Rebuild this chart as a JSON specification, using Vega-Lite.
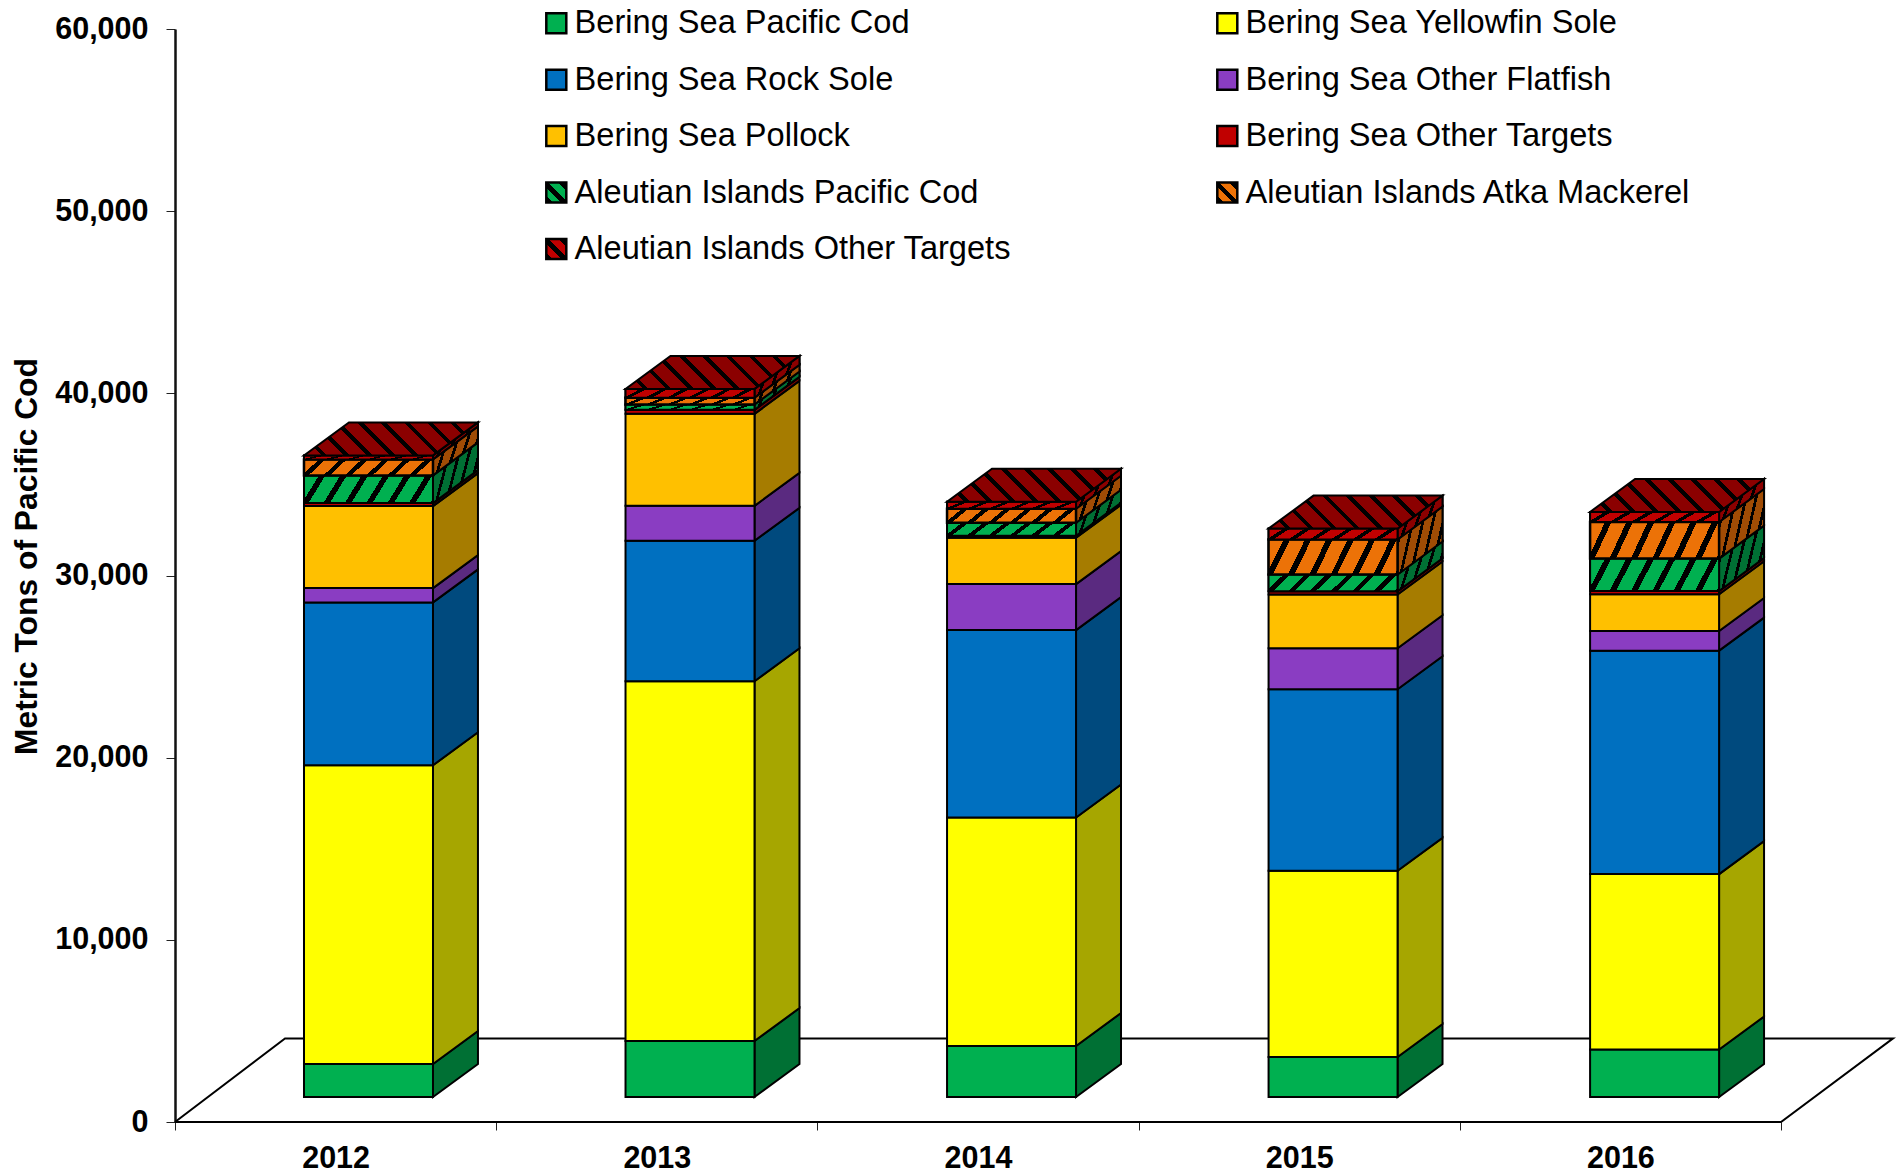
{"$schema":"https://vega.github.io/schema/vega-lite/v6.json","width":1721,"height":1093,"autosize":{"type":"none"},"padding":{"left":175,"top":29,"right":0,"bottom":51},"background":"white","config":{"view":{"stroke":null}},"datasets":{"bars":[
{"year":2012,"series":"Bering Sea Pacific Cod","value":1810},{"year":2012,"series":"Bering Sea Yellowfin Sole","value":16400},{"year":2012,"series":"Bering Sea Rock Sole","value":8940},{"year":2012,"series":"Bering Sea Other Flatfish","value":785},{"year":2012,"series":"Bering Sea Pollock","value":4500},{"year":2012,"series":"Bering Sea Other Targets","value":165},{"year":2012,"series":"Aleutian Islands Pacific Cod","value":1520},{"year":2012,"series":"Aleutian Islands Atka Mackerel","value":880},{"year":2012,"series":"Aleutian Islands Other Targets","value":220},
{"year":2013,"series":"Bering Sea Pacific Cod","value":3070},{"year":2013,"series":"Bering Sea Yellowfin Sole","value":19750},{"year":2013,"series":"Bering Sea Rock Sole","value":7710},{"year":2013,"series":"Bering Sea Other Flatfish","value":1920},{"year":2013,"series":"Bering Sea Pollock","value":5050},{"year":2013,"series":"Bering Sea Other Targets","value":220},{"year":2013,"series":"Aleutian Islands Pacific Cod","value":290},{"year":2013,"series":"Aleutian Islands Atka Mackerel","value":370},{"year":2013,"series":"Aleutian Islands Other Targets","value":490},
{"year":2014,"series":"Bering Sea Pacific Cod","value":2800},{"year":2014,"series":"Bering Sea Yellowfin Sole","value":12540},{"year":2014,"series":"Bering Sea Rock Sole","value":10290},{"year":2014,"series":"Bering Sea Other Flatfish","value":2525},{"year":2014,"series":"Bering Sea Pollock","value":2540},{"year":2014,"series":"Bering Sea Other Targets","value":110},{"year":2014,"series":"Aleutian Islands Pacific Cod","value":715},{"year":2014,"series":"Aleutian Islands Atka Mackerel","value":770},{"year":2014,"series":"Aleutian Islands Other Targets","value":385},
{"year":2015,"series":"Bering Sea Pacific Cod","value":2195},{"year":2015,"series":"Bering Sea Yellowfin Sole","value":10220},{"year":2015,"series":"Bering Sea Rock Sole","value":9970},{"year":2015,"series":"Bering Sea Other Flatfish","value":2250},{"year":2015,"series":"Bering Sea Pollock","value":2950},{"year":2015,"series":"Bering Sea Other Targets","value":180},{"year":2015,"series":"Aleutian Islands Pacific Cod","value":915},{"year":2015,"series":"Aleutian Islands Atka Mackerel","value":1920},{"year":2015,"series":"Aleutian Islands Other Targets","value":600},
{"year":2016,"series":"Bering Sea Pacific Cod","value":2605},{"year":2016,"series":"Bering Sea Yellowfin Sole","value":9630},{"year":2016,"series":"Bering Sea Rock Sole","value":12265},{"year":2016,"series":"Bering Sea Other Flatfish","value":1080},{"year":2016,"series":"Bering Sea Pollock","value":2015},{"year":2016,"series":"Bering Sea Other Targets","value":180},{"year":2016,"series":"Aleutian Islands Pacific Cod","value":1780},{"year":2016,"series":"Aleutian Islands Atka Mackerel","value":2010},{"year":2016,"series":"Aleutian Islands Other Targets","value":550}
],"floor":[{"p":0,"fx":0,"fy":0},{"p":1,"fx":0.3425,"fy":4590},{"p":2,"fx":5.349,"fy":4590},{"p":3,"fx":5,"fy":0},{"p":4,"fx":0,"fy":0}]},
"data":{"name":"bars"},
"transform":[
{"calculate":"indexof(['Bering Sea Pacific Cod','Bering Sea Yellowfin Sole','Bering Sea Rock Sole','Bering Sea Other Flatfish','Bering Sea Pollock','Bering Sea Other Targets','Aleutian Islands Pacific Cod','Aleutian Islands Atka Mackerel','Aleutian Islands Other Targets'],datum.series)","as":"o"},
{"stack":"value","groupby":["year"],"sort":[{"field":"o","order":"ascending"}],"as":["s0","s1"]},
{"calculate":"datum.s0+1374","as":"y0"},{"calculate":"datum.s1+1374","as":"y1"},
{"calculate":"(datum.year-2012)*1.001+0.4016","as":"x0"},{"calculate":"(datum.year-2012)*1.001+0.8032","as":"x1"}
],
"layer":[
{"data":{"name":"floor"},"transform":[],"mark":{"type":"line","stroke":"black","strokeWidth":2,"strokeJoin":"miter","clip":false},
"encoding":{"x":{"field":"fx","type":"quantitative","scale":{"domain":[0,5.358],"nice":false,"zero":false},"title":null,
"axis":{"values":[0,0.5,1,1.5,2,2.5,3,3.5,4,4.5,5],"domain":false,"grid":false,"tickColor":"#222","tickWidth":1,"tickSize":8,"tickOpacity":{"condition":{"test":"datum.value%1===0","value":1},"value":0},"labelExpr":"datum.value%1===0?'':''+(2012+floor(datum.value))","labelFont":"Liberation Sans","labelFontWeight":"bold","labelFontSize":30.5,"labelColor":"black","labelPadding":13,"labelOverlap":false,"labelFlush":false,"labelBound":false}},
"y":{"field":"fy","type":"quantitative","scale":{"domain":[0,60000],"nice":false},"title":"Metric Tons of Pacific Cod",
"axis":{"values":[0,10000,20000,30000,40000,50000,60000],"format":",.0f","grid":false,"domainColor":"#111","domainWidth":2.5,"tickColor":"#222","tickWidth":1,"tickSize":9,"labelFont":"Liberation Sans","labelFontWeight":"bold","labelFontSize":30.5,"labelColor":"black","labelPadding":18,"titleFont":"Liberation Sans","titleFontWeight":"bold","titleFontSize":31.8,"titleColor":"black","titleX":-132,"titleY":527}},
"order":{"field":"p","type":"quantitative"}}},
{"mark":{"type":"point","filled":true,"size":1,"color":"#FFFF00"},
"encoding":{"x":{"field":"x0","type":"quantitative","scale":{"domain":[0,5.358],"nice":false,"zero":false},"title":null},"y":{"field":"y0","type":"quantitative","scale":{"domain":[0,60000],"nice":false}},
"shape":{"field":"series","type":"nominal","sort":null,"scale":{"domain":["Bering Sea Pacific Cod","Bering Sea Yellowfin Sole","Bering Sea Rock Sole","Bering Sea Other Flatfish","Bering Sea Pollock","Bering Sea Other Targets","Aleutian Islands Pacific Cod","Aleutian Islands Atka Mackerel","Aleutian Islands Other Targets"],"range":["square","square","square","square","square","square","square","square","square"]},
"legend":{"orient":"none","legendX":365,"legendY":-22,"title":null,"direction":"horizontal","columns":2,"symbolSize":400,"symbolStrokeColor":"black","symbolStrokeWidth":2.5,"symbolOpacity":1,"labelFont":"Liberation Sans","labelFontSize":32.6,"labelColor":"black","labelLimit":600,"labelOffset":2,"rowPadding":23.4,"columnPadding":199,
"encoding":{"symbols":{"opacity":{"value":1},"stroke":{"value":"black"},"strokeWidth":{"value":2.5},"fill":{"value":{"expr":"indexof(datum.value,'Aleutian')!==0?scale('color',datum.value):{gradient:'linear',x1:0,y1:1,x2:1,y2:0,stops:[{offset:0,color:'#000'},{offset:0.16,color:'#000'},{offset:0.16,color:scale('color',datum.value)},{offset:0.38,color:scale('color',datum.value)},{offset:0.38,color:'#000'},{offset:0.55,color:'#000'},{offset:0.55,color:scale('color',datum.value)},{offset:0.8,color:scale('color',datum.value)},{offset:0.8,color:'#000'},{offset:1,color:'#000'}]}"}}}}}}}},
{"transform":[{"calculate":"[0,1]","as":"t"},{"flatten":["t"]},{"calculate":"datum.x1+datum.t*0.14","as":"sx"},{"calculate":"datum.y0+datum.t*1811","as":"sa"},{"calculate":"datum.y1+datum.t*1811","as":"sb"}],
"mark":{"type":"area","stroke":"black","strokeWidth":2,"strokeJoin":"miter"},
"encoding":{"x":{"field":"sx","type":"quantitative","scale":{"domain":[0,5.358],"nice":false,"zero":false},"title":null},"y":{"field":"sa","type":"quantitative","stack":null,"scale":{"domain":[0,60000],"nice":false}},"y2":{"field":"sb"},"fill":{"field":"series","type":"nominal","legend":null,"scale":{"domain":["Bering Sea Yellowfin Sole","Bering Sea Rock Sole","Bering Sea Other Flatfish","Bering Sea Pollock","Bering Sea Other Targets","Aleutian Islands Pacific Cod","Aleutian Islands Atka Mackerel","Aleutian Islands Other Targets","Bering Sea Pacific Cod"],"range":["#A6A600","#004A7E","#5A2A80","#A67C00","#7E0000","#007034","#A04C05","#8B0000","#007034"]}},"detail":{"field":"year","type":"nominal"}}},
{"mark":{"type":"rect","stroke":"black","strokeWidth":2},
"encoding":{"x":{"field":"x0","type":"quantitative","scale":{"domain":[0,5.358],"nice":false,"zero":false},"title":null},"x2":{"field":"x1"},"y":{"field":"y0","type":"quantitative","scale":{"domain":[0,60000],"nice":false}},"y2":{"field":"y1"},
"color":{"field":"series","type":"nominal","legend":null,"scale":{"domain":["Aleutian Islands Other Targets","Aleutian Islands Atka Mackerel","Aleutian Islands Pacific Cod","Bering Sea Other Targets","Bering Sea Pollock","Bering Sea Other Flatfish","Bering Sea Rock Sole","Bering Sea Yellowfin Sole","Bering Sea Pacific Cod"],"range":["#C00000","#EC7207","#00B050","#C00000","#FFC000","#8A3DC2","#0070C0","#FFFF00","#00B050"]}}}},
{"transform":[{"filter":"datum.series==='Aleutian Islands Pacific Cod'"},{"calculate":"[0,1]","as":"t"},{"flatten":["t"]},{"calculate":"datum.x1+datum.t*0.14","as":"sx"},{"calculate":"datum.y0+datum.t*1811","as":"sa"},{"calculate":"datum.y1+datum.t*1811","as":"sb"}],
"mark":{"type":"area","stroke":"black","strokeWidth":2,"strokeJoin":"miter","fill":{"gradient":"linear","x1":0,"y1":0,"x2":1.2,"y2":0.42,"stops":[{"offset":0,"color":"#007034"},{"offset":0.12,"color":"#007034"},{"offset":0.12,"color":"#000"},{"offset":0.167,"color":"#000"},{"offset":0.167,"color":"#007034"},{"offset":0.287,"color":"#007034"},{"offset":0.287,"color":"#000"},{"offset":0.333,"color":"#000"},{"offset":0.333,"color":"#007034"},{"offset":0.453,"color":"#007034"},{"offset":0.453,"color":"#000"},{"offset":0.5,"color":"#000"},{"offset":0.5,"color":"#007034"},{"offset":0.62,"color":"#007034"},{"offset":0.62,"color":"#000"},{"offset":0.667,"color":"#000"},{"offset":0.667,"color":"#007034"},{"offset":0.787,"color":"#007034"},{"offset":0.787,"color":"#000"},{"offset":0.833,"color":"#000"},{"offset":0.833,"color":"#007034"},{"offset":0.953,"color":"#007034"},{"offset":0.953,"color":"#000"},{"offset":1,"color":"#000"}]}},
"encoding":{"x":{"field":"sx","type":"quantitative","scale":{"domain":[0,5.358],"nice":false,"zero":false},"title":null},"y":{"field":"sa","type":"quantitative","stack":null,"scale":{"domain":[0,60000],"nice":false}},"y2":{"field":"sb"},"detail":{"field":"year","type":"nominal"}}},
{"transform":[{"filter":"datum.series==='Aleutian Islands Atka Mackerel'"},{"calculate":"[0,1]","as":"t"},{"flatten":["t"]},{"calculate":"datum.x1+datum.t*0.14","as":"sx"},{"calculate":"datum.y0+datum.t*1811","as":"sa"},{"calculate":"datum.y1+datum.t*1811","as":"sb"}],
"mark":{"type":"area","stroke":"black","strokeWidth":2,"strokeJoin":"miter","fill":{"gradient":"linear","x1":0,"y1":0,"x2":1.2,"y2":0.42,"stops":[{"offset":0,"color":"#A04C05"},{"offset":0.12,"color":"#A04C05"},{"offset":0.12,"color":"#000"},{"offset":0.167,"color":"#000"},{"offset":0.167,"color":"#A04C05"},{"offset":0.287,"color":"#A04C05"},{"offset":0.287,"color":"#000"},{"offset":0.333,"color":"#000"},{"offset":0.333,"color":"#A04C05"},{"offset":0.453,"color":"#A04C05"},{"offset":0.453,"color":"#000"},{"offset":0.5,"color":"#000"},{"offset":0.5,"color":"#A04C05"},{"offset":0.62,"color":"#A04C05"},{"offset":0.62,"color":"#000"},{"offset":0.667,"color":"#000"},{"offset":0.667,"color":"#A04C05"},{"offset":0.787,"color":"#A04C05"},{"offset":0.787,"color":"#000"},{"offset":0.833,"color":"#000"},{"offset":0.833,"color":"#A04C05"},{"offset":0.953,"color":"#A04C05"},{"offset":0.953,"color":"#000"},{"offset":1,"color":"#000"}]}},
"encoding":{"x":{"field":"sx","type":"quantitative","scale":{"domain":[0,5.358],"nice":false,"zero":false},"title":null},"y":{"field":"sa","type":"quantitative","stack":null,"scale":{"domain":[0,60000],"nice":false}},"y2":{"field":"sb"},"detail":{"field":"year","type":"nominal"}}},
{"transform":[{"filter":"datum.series==='Aleutian Islands Other Targets'"},{"calculate":"[0,1]","as":"t"},{"flatten":["t"]},{"calculate":"datum.x1+datum.t*0.14","as":"sx"},{"calculate":"datum.y0+datum.t*1811","as":"sa"},{"calculate":"datum.y1+datum.t*1811","as":"sb"}],
"mark":{"type":"area","stroke":"black","strokeWidth":2,"strokeJoin":"miter","fill":{"gradient":"linear","x1":0,"y1":0,"x2":1.2,"y2":0.42,"stops":[{"offset":0,"color":"#8B0000"},{"offset":0.12,"color":"#8B0000"},{"offset":0.12,"color":"#000"},{"offset":0.167,"color":"#000"},{"offset":0.167,"color":"#8B0000"},{"offset":0.287,"color":"#8B0000"},{"offset":0.287,"color":"#000"},{"offset":0.333,"color":"#000"},{"offset":0.333,"color":"#8B0000"},{"offset":0.453,"color":"#8B0000"},{"offset":0.453,"color":"#000"},{"offset":0.5,"color":"#000"},{"offset":0.5,"color":"#8B0000"},{"offset":0.62,"color":"#8B0000"},{"offset":0.62,"color":"#000"},{"offset":0.667,"color":"#000"},{"offset":0.667,"color":"#8B0000"},{"offset":0.787,"color":"#8B0000"},{"offset":0.787,"color":"#000"},{"offset":0.833,"color":"#000"},{"offset":0.833,"color":"#8B0000"},{"offset":0.953,"color":"#8B0000"},{"offset":0.953,"color":"#000"},{"offset":1,"color":"#000"}]}},
"encoding":{"x":{"field":"sx","type":"quantitative","scale":{"domain":[0,5.358],"nice":false,"zero":false},"title":null},"y":{"field":"sa","type":"quantitative","stack":null,"scale":{"domain":[0,60000],"nice":false}},"y2":{"field":"sb"},"detail":{"field":"year","type":"nominal"}}},
{"transform":[{"filter":"datum.series==='Aleutian Islands Pacific Cod'"}],"mark":{"type":"rect","stroke":"black","strokeWidth":2,"fill":{"gradient":"linear","x1":0,"y1":0,"x2":1.14,"y2":0.15,"stops":[{"offset":0,"color":"#00B050"},{"offset":0.1,"color":"#00B050"},{"offset":0.1,"color":"#000"},{"offset":0.143,"color":"#000"},{"offset":0.143,"color":"#00B050"},{"offset":0.243,"color":"#00B050"},{"offset":0.243,"color":"#000"},{"offset":0.286,"color":"#000"},{"offset":0.286,"color":"#00B050"},{"offset":0.386,"color":"#00B050"},{"offset":0.386,"color":"#000"},{"offset":0.429,"color":"#000"},{"offset":0.429,"color":"#00B050"},{"offset":0.529,"color":"#00B050"},{"offset":0.529,"color":"#000"},{"offset":0.571,"color":"#000"},{"offset":0.571,"color":"#00B050"},{"offset":0.671,"color":"#00B050"},{"offset":0.671,"color":"#000"},{"offset":0.714,"color":"#000"},{"offset":0.714,"color":"#00B050"},{"offset":0.814,"color":"#00B050"},{"offset":0.814,"color":"#000"},{"offset":0.857,"color":"#000"},{"offset":0.857,"color":"#00B050"},{"offset":0.957,"color":"#00B050"},{"offset":0.957,"color":"#000"},{"offset":1,"color":"#000"}]}},
"encoding":{"x":{"field":"x0","type":"quantitative","scale":{"domain":[0,5.358],"nice":false,"zero":false},"title":null},"x2":{"field":"x1"},"y":{"field":"y0","type":"quantitative","scale":{"domain":[0,60000],"nice":false}},"y2":{"field":"y1"}}},
{"transform":[{"filter":"datum.series==='Aleutian Islands Atka Mackerel'"}],"mark":{"type":"rect","stroke":"black","strokeWidth":2.5,"fill":{"gradient":"linear","x1":0,"y1":0,"x2":1.14,"y2":0.15,"stops":[{"offset":0,"color":"#EC7207"},{"offset":0.1,"color":"#EC7207"},{"offset":0.1,"color":"#000"},{"offset":0.143,"color":"#000"},{"offset":0.143,"color":"#EC7207"},{"offset":0.243,"color":"#EC7207"},{"offset":0.243,"color":"#000"},{"offset":0.286,"color":"#000"},{"offset":0.286,"color":"#EC7207"},{"offset":0.386,"color":"#EC7207"},{"offset":0.386,"color":"#000"},{"offset":0.429,"color":"#000"},{"offset":0.429,"color":"#EC7207"},{"offset":0.529,"color":"#EC7207"},{"offset":0.529,"color":"#000"},{"offset":0.571,"color":"#000"},{"offset":0.571,"color":"#EC7207"},{"offset":0.671,"color":"#EC7207"},{"offset":0.671,"color":"#000"},{"offset":0.714,"color":"#000"},{"offset":0.714,"color":"#EC7207"},{"offset":0.814,"color":"#EC7207"},{"offset":0.814,"color":"#000"},{"offset":0.857,"color":"#000"},{"offset":0.857,"color":"#EC7207"},{"offset":0.957,"color":"#EC7207"},{"offset":0.957,"color":"#000"},{"offset":1,"color":"#000"}]}},
"encoding":{"x":{"field":"x0","type":"quantitative","scale":{"domain":[0,5.358],"nice":false,"zero":false},"title":null},"x2":{"field":"x1"},"y":{"field":"y0","type":"quantitative","scale":{"domain":[0,60000],"nice":false}},"y2":{"field":"y1"}}},
{"transform":[{"filter":"datum.series==='Aleutian Islands Other Targets'"}],"mark":{"type":"rect","stroke":"black","strokeWidth":2,"fill":{"gradient":"linear","x1":0,"y1":0,"x2":1.14,"y2":0.15,"stops":[{"offset":0,"color":"#C00000"},{"offset":0.1,"color":"#C00000"},{"offset":0.1,"color":"#000"},{"offset":0.143,"color":"#000"},{"offset":0.143,"color":"#C00000"},{"offset":0.243,"color":"#C00000"},{"offset":0.243,"color":"#000"},{"offset":0.286,"color":"#000"},{"offset":0.286,"color":"#C00000"},{"offset":0.386,"color":"#C00000"},{"offset":0.386,"color":"#000"},{"offset":0.429,"color":"#000"},{"offset":0.429,"color":"#C00000"},{"offset":0.529,"color":"#C00000"},{"offset":0.529,"color":"#000"},{"offset":0.571,"color":"#000"},{"offset":0.571,"color":"#C00000"},{"offset":0.671,"color":"#C00000"},{"offset":0.671,"color":"#000"},{"offset":0.714,"color":"#000"},{"offset":0.714,"color":"#C00000"},{"offset":0.814,"color":"#C00000"},{"offset":0.814,"color":"#000"},{"offset":0.857,"color":"#000"},{"offset":0.857,"color":"#C00000"},{"offset":0.957,"color":"#C00000"},{"offset":0.957,"color":"#000"},{"offset":1,"color":"#000"}]}},
"encoding":{"x":{"field":"x0","type":"quantitative","scale":{"domain":[0,5.358],"nice":false,"zero":false},"title":null},"x2":{"field":"x1"},"y":{"field":"y0","type":"quantitative","scale":{"domain":[0,60000],"nice":false}},"y2":{"field":"y1"}}},
{"transform":[{"filter":"datum.series==='Aleutian Islands Other Targets'"},{"calculate":"[0,1,2,3]","as":"c"},{"flatten":["c"]},{"calculate":"[datum.x0,datum.x0+0.14,datum.x1,datum.x1+0.14][datum.c]","as":"tx"},{"calculate":"[datum.y1,datum.y1,datum.y1,datum.y1+1811][datum.c]","as":"ta"},{"calculate":"[datum.y1,datum.y1+1811,datum.y1+1811,datum.y1+1811][datum.c]","as":"tb"}],
"mark":{"type":"area","stroke":"black","strokeWidth":2,"strokeJoin":"miter","fill":{"gradient":"linear","x1":0,"y1":1,"x2":1.149,"y2":0.782,"stops":[{"offset":0,"color":"#8B0000"},{"offset":0.084,"color":"#8B0000"},{"offset":0.084,"color":"#000"},{"offset":0.111,"color":"#000"},{"offset":0.111,"color":"#8B0000"},{"offset":0.195,"color":"#8B0000"},{"offset":0.195,"color":"#000"},{"offset":0.222,"color":"#000"},{"offset":0.222,"color":"#8B0000"},{"offset":0.306,"color":"#8B0000"},{"offset":0.306,"color":"#000"},{"offset":0.333,"color":"#000"},{"offset":0.333,"color":"#8B0000"},{"offset":0.417,"color":"#8B0000"},{"offset":0.417,"color":"#000"},{"offset":0.444,"color":"#000"},{"offset":0.444,"color":"#8B0000"},{"offset":0.528,"color":"#8B0000"},{"offset":0.528,"color":"#000"},{"offset":0.556,"color":"#000"},{"offset":0.556,"color":"#8B0000"},{"offset":0.64,"color":"#8B0000"},{"offset":0.64,"color":"#000"},{"offset":0.667,"color":"#000"},{"offset":0.667,"color":"#8B0000"},{"offset":0.751,"color":"#8B0000"},{"offset":0.751,"color":"#000"},{"offset":0.778,"color":"#000"},{"offset":0.778,"color":"#8B0000"},{"offset":0.862,"color":"#8B0000"},{"offset":0.862,"color":"#000"},{"offset":0.889,"color":"#000"},{"offset":0.889,"color":"#8B0000"},{"offset":1,"color":"#8B0000"}]}},
"encoding":{"x":{"field":"tx","type":"quantitative","scale":{"domain":[0,5.358],"nice":false,"zero":false},"title":null},"y":{"field":"ta","type":"quantitative","stack":null,"scale":{"domain":[0,60000],"nice":false}},"y2":{"field":"tb"},"detail":{"field":"year","type":"nominal"}}}
]}
